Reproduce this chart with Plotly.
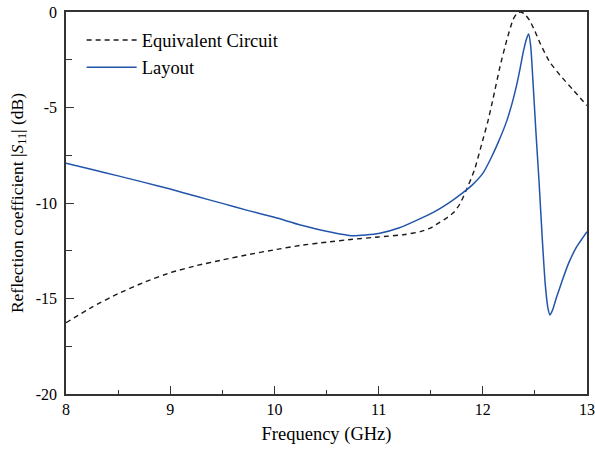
import plotly.graph_objects as go

# Equivalent circuit (dashed)
f_eq = [8.0, 8.25, 8.5, 8.75, 9.0, 9.25, 9.5, 9.75, 10.0, 10.25, 10.5, 10.75, 11.0,
        11.25, 11.4, 11.5, 11.59, 11.65, 11.72, 11.78, 11.84, 11.92, 12.0, 12.05,
        12.1, 12.165, 12.23, 12.29, 12.33, 12.36, 12.4, 12.45, 12.5, 12.55, 12.64,
        12.74, 12.87, 13.0]
s_eq = [-16.27, -15.45, -14.75, -14.15, -13.65, -13.28, -12.98, -12.7, -12.45, -12.22,
        -12.05, -11.9, -11.78, -11.65, -11.5, -11.3, -11.0, -10.8, -10.5, -10.05,
        -9.35, -8.27, -6.7, -5.7, -4.5, -2.86, -1.47, -0.4, -0.05, 0.0, -0.1,
        -0.45, -1.0, -1.64, -2.6, -3.3, -4.1, -4.9]

# Layout (solid)
f_lay = [8.0, 8.25, 8.5, 8.75, 9.0, 9.25, 9.5, 9.75, 10.0, 10.25, 10.5, 10.75, 11.0,
         11.2, 11.4, 11.52, 11.6, 11.7, 11.8, 11.9, 12.0, 12.07, 12.15, 12.23, 12.29,
         12.33, 12.36, 12.39, 12.42, 12.44, 12.46, 12.48, 12.51, 12.54, 12.57, 12.6,
         12.625, 12.645, 12.67, 12.71, 12.76, 12.82, 12.9, 13.0]
s_lay = [-7.92, -8.25, -8.58, -8.92, -9.27, -9.65, -10.02, -10.4, -10.75, -11.15,
         -11.48, -11.72, -11.6, -11.3, -10.82, -10.5, -10.25, -9.9, -9.5, -9.05, -8.45,
         -7.75, -6.8, -5.7, -4.6, -3.7, -2.9, -2.05, -1.4, -1.15, -1.8, -3.5, -6.3,
         -8.9, -11.8, -14.3, -15.5, -15.86, -15.6, -14.9, -14.1, -13.2, -12.3, -11.5]

x_ticks = [8, 9, 10, 11, 12, 13]
x_labels = ["8", "9", "10", "11", "12", "13"]
y_ticks = [0, -5, -10, -15, -20]
y_labels = ["0", "-5", "-10", "-15", "-20"]

font_family = "Liberation Serif, Times New Roman, Times, serif"

fig = go.Figure()
fig.add_trace(go.Scatter(x=f_eq, y=s_eq, mode="lines", name="Equivalent Circuit",
                         line=dict(color="#1a1a1a", width=1.4, dash="5px,4px", shape="spline",
                                   smoothing=0.5)))
fig.add_trace(go.Scatter(x=f_lay, y=s_lay, mode="lines", name="Layout",
                         line=dict(color="#2255aa", width=1.5, shape="spline", smoothing=0.5)))

axis_common = dict(showgrid=False, zeroline=False, showline=True, linecolor="#333333",
                   linewidth=1.5, mirror=True, ticks="inside", ticklen=8, tickwidth=1.2,
                   tickcolor="#333333", automargin=False,
                   tickfont=dict(family=font_family, size=16, color="black"))

fig.update_xaxes(range=[8, 13], tickvals=x_ticks, ticktext=x_labels,
                 minor=dict(ticks="inside", dtick=0.5, tick0=8, ticklen=4, tickcolor="#333333"),
                 title=dict(text="Frequency (GHz)", font=dict(family=font_family, size=18.5, color="black"),
                            standoff=10),
                 **axis_common)
fig.update_yaxes(range=[-20, 0], tickvals=y_ticks, ticktext=y_labels,
                 minor=dict(ticks="inside", dtick=2.5, tick0=0, ticklen=6, tickcolor="#333333"),
                 ticklabelstandoff=4,
                 title=dict(text="Reflection coefficient |<i>S</i><sub>11</sub>| (dB)",
                            font=dict(family=font_family, size=17.5, color="black"), standoff=8),
                 **axis_common)

fig.update_layout(
    width=595, height=450,
    margin=dict(l=66, r=8, t=12, b=56),
    font=dict(family=font_family, color="black"),
    paper_bgcolor="white", plot_bgcolor="white",
    showlegend=True,
    legend=dict(x=0.03, y=0.975, xanchor="left", yanchor="top", bgcolor="rgba(0,0,0,0)",
                font=dict(family=font_family, size=18.5, color="black"), tracegroupgap=0,
                itemwidth=50),
)

fig.write_html("out.html", config={"displayModeBar": False},
               post_script="document.body.style.margin='0px';")
